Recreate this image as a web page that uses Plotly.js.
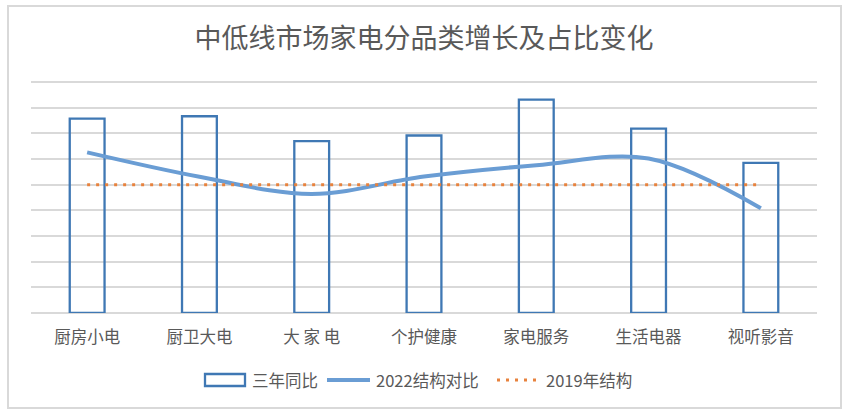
<!DOCTYPE html>
<html>
<head>
<meta charset="utf-8">
<script src="https://cdn.plot.ly/plotly-3.0.1.min.js"></script>
<style>
  html, body { margin: 0; padding: 0; background: #fff; }
  #wrap { position: relative; width: 846px; height: 414px; }
  #chart { width: 846px; height: 414px; }
  #frame { position: absolute; left: 7px; top: 5px; width: 831px; height: 400px;
           border: 2px solid #d9d9d9; pointer-events: none; }
</style>
</head>
<body>
<div id="wrap"><div id="chart"></div><div id="frame"></div></div>
<script>
// ---- data ----
const categories = ['厨房小电', '厨卫大电', '大 家 电', '个护健康', '家电服务', '生活电器', '视听影音'];
const threeYearYoY = [7.58, 7.67, 6.70, 6.92, 8.32, 7.19, 5.85];
const share2022 = [6.26, 5.31, 4.64, 5.32, 5.76, 6.02, 4.08];
const share2019 = [5.0, 5.0, 5.0, 5.0, 5.0, 5.0, 5.0];
const seriesNames = ['三年同比', '2022结构对比', '2019年结构'];
const titleText = '中低线市场家电分品类增长及占比变化';

// ---- styles ----
const W = 846, H = 414;
const M = { l: 31, r: 29, t: 77, b: 101 };
const barColor = '#3f78b4';
const lineColor = '#6a9dd4';
const dotColor = '#e8823d';
const textColor = '#595959';
const gridColor = '#d9d9d9';
const fontFam = '"Noto Sans CJK SC", "Noto Sans", sans-serif';

const traces = [
  {
    type: 'bar', name: seriesNames[0], x: categories, y: threeYearYoY,
    width: 0.31,
    marker: { color: 'rgba(255,255,255,0)', line: { color: barColor, width: 2.3 } },
    hoverinfo: 'x+y'
  },
  {
    type: 'scatter', mode: 'lines', name: seriesNames[1], x: categories, y: share2022,
    line: { color: lineColor, width: 4, shape: 'spline', smoothing: 1 }
  },
  {
    type: 'scatter', mode: 'lines', name: seriesNames[2], x: categories, y: share2019,
    line: { color: dotColor, width: 3, dash: '3px,6px' }
  }
];

// pixel -> paper helpers for the custom legend
const pw = W - M.l - M.r, ph = H - M.t - M.b;
const px = v => (v - M.l) / pw;
const py = v => (H - M.b - v) / ph;

const legY = 380;
const shapes = [
  { type: 'rect', xref: 'paper', yref: 'paper', x0: px(205), x1: px(245), y0: py(386), y1: py(374),
    line: { color: barColor, width: 2.3 }, fillcolor: '#fff' },
  { type: 'line', xref: 'paper', yref: 'paper', x0: px(327), x1: px(370), y0: py(legY), y1: py(legY),
    line: { color: lineColor, width: 4 } },
  { type: 'line', xref: 'paper', yref: 'paper', x0: px(497), x1: px(538), y0: py(legY), y1: py(legY),
    line: { color: dotColor, width: 3, dash: '3px,6px' } }
];
const legFont = { family: fontFam, size: 16.5, color: textColor };
const annotations = [
  { text: seriesNames[0], x: px(250), y: py(legY), xref: 'paper', yref: 'paper', xanchor: 'left', yanchor: 'middle', showarrow: false, font: legFont },
  { text: seriesNames[1], x: px(374), y: py(legY), xref: 'paper', yref: 'paper', xanchor: 'left', yanchor: 'middle', showarrow: false, font: legFont },
  { text: seriesNames[2], x: px(544), y: py(legY), xref: 'paper', yref: 'paper', xanchor: 'left', yanchor: 'middle', showarrow: false, font: legFont }
];

const layout = {
  width: W, height: H,
  margin: M,
  paper_bgcolor: '#fff', plot_bgcolor: '#fff',
  showlegend: false,
  title: { text: titleText, x: 0.5, xref: 'paper', xanchor: 'center', y: (H - 39) / H, yanchor: 'middle',
           font: { family: fontFam, size: 27, color: textColor } },
  xaxis: {
    type: 'category', showgrid: false, zeroline: false, showline: false,
    ticks: '', tickfont: { family: fontFam, size: 16.5, color: textColor },
    ticklabelstandoff: 12, fixedrange: true
  },
  yaxis: {
    range: [0, 9.2], dtick: 1, tick0: 0, showticklabels: false, ticks: '',
    showgrid: true, gridcolor: gridColor, gridwidth: 2,
    zeroline: true, zerolinecolor: gridColor, zerolinewidth: 2,
    showline: false, fixedrange: true
  },
  shapes: shapes,
  annotations: annotations,
  bargap: 0.69
};

Plotly.newPlot('chart', traces, layout, { displayModeBar: false, staticPlot: true });
</script>
</body>
</html>
